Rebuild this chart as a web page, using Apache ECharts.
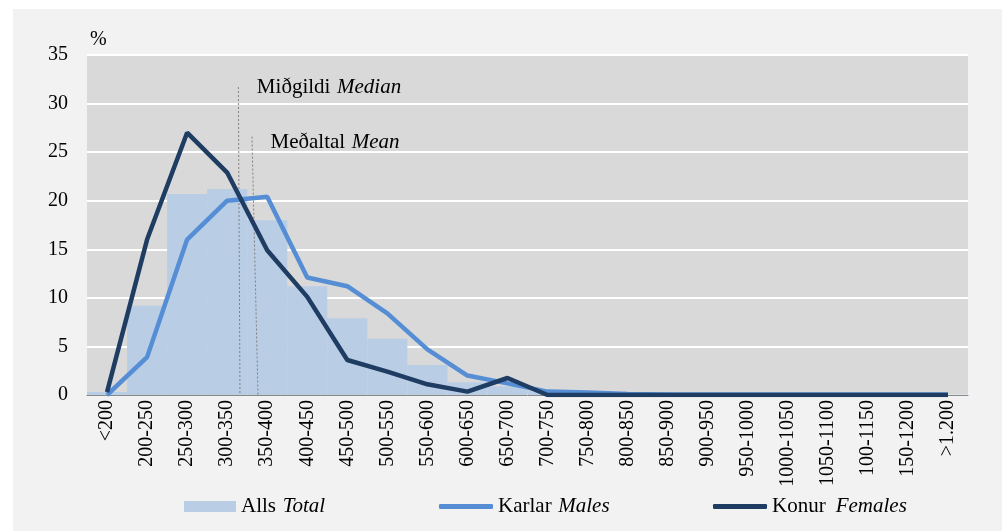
<!DOCTYPE html>
<html>
<head>
<meta charset="utf-8">
<script src="https://cdn.jsdelivr.net/npm/echarts@6/dist/echarts.min.js"></script>
<style>
  html, body { margin: 0; padding: 0; background: #fff; }
  #chart { position: absolute; left: 13px; top: 9px; width: 989px; height: 522px; background: #f2f2f2; }
</style>
</head>
<body>
<div id="chart"></div>
<script>
  // income groups
  const categories = ['<200', '200-250', '250-300', '300-350', '350-400', '400-450', '450-500', '500-550',
    '550-600', '600-650', '650-700', '700-750', '750-800', '800-850', '850-900', '900-950', '950-1000',
    '1000-1050', '1050-1100', '100-1150', '150-1200', '>1.200'];
  const yTicks = [0, 5, 10, 15, 20, 25, 30, 35];

  const total = [0.3, 9.2, 20.7, 21.2, 18.0, 11.2, 7.9, 5.8, 3.1, 1.3, 0.9, 0.45, 0.35, 0.15, 0.1, 0.1, 0.1, 0.05, 0.05, 0.05, 0.05, 0.05];
  const males = [0.0, 3.9, 16.0, 20.0, 20.4, 12.1, 11.2, 8.4, 4.7, 2.0, 1.2, 0.35, 0.25, 0.1, 0.05, 0.05, 0.05, 0.05, 0.05, 0.05, 0.05, 0.05];
  const females = [0.3, 16.0, 27.0, 22.9, 14.9, 10.1, 3.6, 2.4, 1.1, 0.35, 1.75, 0, 0, 0, 0, 0, 0, 0, 0, 0, 0, 0];

  // median / mean markers, in category units (top point, bottom point)
  const medianPts = [[3.78, 31.7], [3.82, 0]];
  const meanPts = [[4.12, 26.6], [4.27, 0]];

  const serif = '"Liberation Serif", "DejaVu Serif", serif';
  const rich = {
    n: {fontFamily: serif, fontSize: 21, color: '#000'},
    i: {fontFamily: serif, fontSize: 21, color: '#000', fontStyle: 'italic'}
  };

  const chart = echarts.init(document.getElementById('chart'));

  const markerSeries = (name, pts, label, dy) => ({
    name: name,
    type: 'line',
    xAxisIndex: 1,
    data: pts.map((p, k) => ({
      value: p,
      label: k === 0 ? {
        show: true, position: 'right', distance: 18, offset: [0, dy],
        formatter: label, rich: rich
      } : {show: false}
    })),
    symbol: 'circle',
    symbolSize: 1,
    itemStyle: {color: 'rgba(0,0,0,0)'},
    lineStyle: {color: '#808080', width: 1, type: [2, 2]},
    silent: true,
    z: 1
  });

  chart.setOption({
    animation: false,
    title: {
      text: '%', left: 72, top: 16,
      textStyle: {fontFamily: serif, fontSize: 20, fontWeight: 'normal', color: '#000'}
    },
    legend: [
      {data: [{name: 'Alls', icon: 'rect'}], left: 166, top: 482, itemWidth: 52, itemHeight: 11,
        formatter: () => '{n|Alls}  {i|Total}', textStyle: {rich: rich}},
      {data: [{name: 'Karlar', icon: 'roundRect'}], left: 421, top: 482, itemWidth: 54, itemHeight: 5,
        formatter: () => '{n|Karlar}  {i|Males}', textStyle: {rich: rich}},
      {data: [{name: 'Konur', icon: 'roundRect'}], left: 695, top: 482, itemWidth: 54, itemHeight: 5,
        formatter: () => '{n|Konur}   {i|Females}', textStyle: {rich: rich}}
    ],
    grid: {
      left: 74, top: 46, width: 881, height: 340,
      show: true, backgroundColor: '#d9d9d9', borderWidth: 0
    },
    xAxis: [
      {
        type: 'category',
        data: categories,
        boundaryGap: true,
        axisLine: {lineStyle: {color: '#898989', width: 1}},
        axisTick: {show: false},
        axisLabel: {rotate: 90, margin: 5, interval: 0, fontFamily: serif, fontSize: 20, color: '#000'}
      },
      {type: 'value', min: 0, max: categories.length, show: false, position: 'bottom'}
    ],
    yAxis: {
      type: 'value',
      min: yTicks[0],
      max: yTicks[yTicks.length - 1],
      interval: 5,
      axisLine: {show: false},
      axisTick: {show: false},
      axisLabel: {margin: 19, fontFamily: serif, fontSize: 20, color: '#000'},
      splitLine: {lineStyle: {color: '#ffffff', width: 2}}
    },
    series: [
      {
        name: 'Alls', type: 'bar', data: total,
        barCategoryGap: '0%', barGap: '0%',
        itemStyle: {color: '#b9cde5'}, z: 0
      },
      markerSeries('median', medianPts, '{n|Miðgildi}  {i|Median}', 0),
      markerSeries('mean', meanPts, '{n|Meðaltal}  {i|Mean}', 6),
      {
        name: 'Karlar', type: 'line', data: males, symbol: 'none',
        lineStyle: {color: '#558ed5', width: 4.5}, itemStyle: {color: '#558ed5'}, z: 3
      },
      {
        name: 'Konur', type: 'line', data: females, symbol: 'none',
        lineStyle: {color: '#1f3d63', width: 4.5}, itemStyle: {color: '#1f3d63'}, z: 4
      }
    ]
  });
</script>
</body>
</html>
